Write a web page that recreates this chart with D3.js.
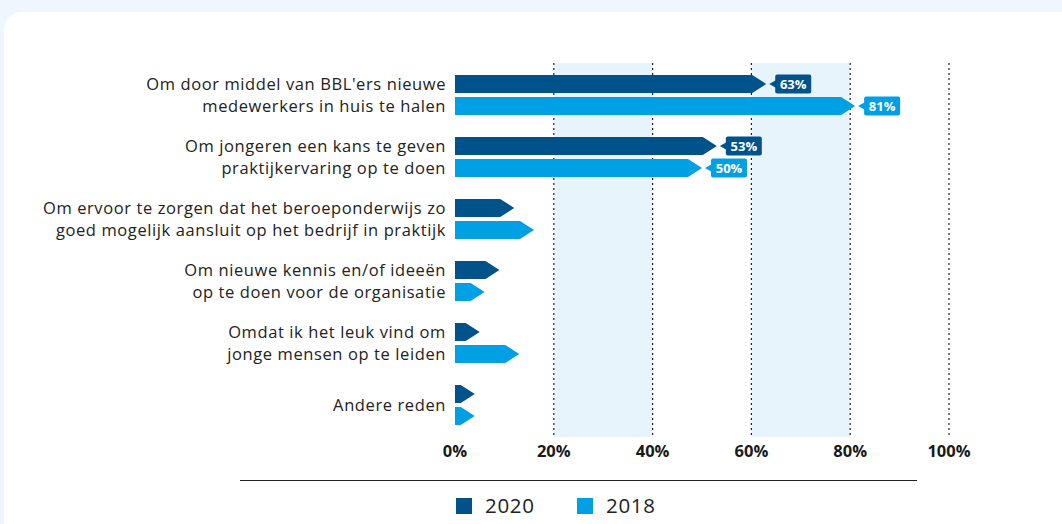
<!DOCTYPE html>
<html><head><meta charset="utf-8">
<script src="https://cdn.jsdelivr.net/npm/d3@7"></script>
<style>
html,body{margin:0;padding:0;background:#eef7fd;}
svg{display:block;}
</style></head>
<body>
<svg id="chart" width="1062" height="524"></svg>
<script>
const categories = [
  ["Om door middel van BBL'ers nieuwe", "medewerkers in huis te halen"],
  ["Om jongeren een kans te geven", "praktijkervaring op te doen"],
  ["Om ervoor te zorgen dat het beroeponderwijs zo", "goed mogelijk aansluit op het bedrijf in praktijk"],
  ["Om nieuwe kennis en/of ideeën", "op te doen voor de organisatie"],
  ["Omdat ik het leuk vind om", "jonge mensen op te leiden"],
  ["Andere reden"]
];
const values2020 = [63, 53, 12, 9, 5, 4];
const values2018 = [81, 50, 16, 6, 13, 4];
const seriesNames = ["2020", "2018"];
const tickValues = [0, 20, 40, 60, 80, 100];
const tickLabels = ["0%", "20%", "40%", "60%", "80%", "100%"];
const labeledGroups = [0, 1];

(function(){
const colors = {"2020": "#00538a", "2018": "#00a1e4"};
const svg = d3.select("#chart");
const font = "'Open Sans', sans-serif";

svg.append("rect").attr("x",0).attr("y",0).attr("width",1062).attr("height",524).attr("fill","#eef7fd");
svg.append("rect").attr("x",4).attr("y",12).attr("width",1090).attr("height",540).attr("rx",18).attr("fill","#ffffff");

const x = d3.scaleLinear().domain([0, 100]).range([455, 949]);
const y = d3.scaleBand().domain(d3.range(categories.length)).range([64, 436]);
const gTop = 63, gBottom = 437;

[[20,40],[60,80]].forEach(([a,b]) => {
  svg.append("rect").attr("x", x(a)).attr("y", gTop).attr("width", x(b)-x(a)).attr("height", gBottom-gTop).attr("fill","#e8f4fc");
});
svg.selectAll(".grid").data(tickValues.filter(d => d > 0)).enter().append("line")
  .attr("x1", d => x(d)).attr("x2", d => x(d)).attr("y1", gTop).attr("y2", gBottom)
  .attr("stroke","#222").attr("stroke-width",1.2).attr("stroke-dasharray","2,3");

svg.selectAll(".tick").data(tickValues).enter().append("text")
  .attr("x", d => x(d)).attr("y", 457).attr("text-anchor","middle")
  .attr("font-family", font).attr("font-weight", 700).attr("font-size", 16.5).attr("fill","#1a1a1a")
  .text((d,i) => tickLabels[i]);

categories.forEach((lines, i) => {
  const c = y(i) + y.bandwidth()/2;
  const ys = lines.length === 2 ? [c-11, c+11] : [c];
  lines.forEach((ln, j) => {
    svg.append("text").attr("x", 446).attr("y", ys[j]).attr("dy","0.35em")
      .attr("text-anchor","end").attr("font-family", font).attr("font-weight", 400)
      .attr("font-size", 16.5).attr("letter-spacing", 0.6).attr("fill","#222").text(ln);
  });
});

const barH = 18, tip = 14;
function arrowPath(v, cy) {
  const x0 = x(0), x1 = x(v), xb = Math.max(x0 + 1, x1 - tip);
  return `M${x0},${cy-barH/2} L${xb},${cy-barH/2} L${x1},${cy} L${xb},${cy+barH/2} L${x0},${cy+barH/2} Z`;
}
[[values2020,"2020",-11],[values2018,"2018",11]].forEach(([vals, name, off]) => {
  vals.forEach((v, i) => {
    const cy = y(i) + y.bandwidth()/2 + off;
    svg.append("path").attr("d", arrowPath(v, cy)).attr("fill", colors[name]);
    if (labeledGroups.includes(i)) {
      const bx = x(v) + 9, bw = 36, bh = 19;
      svg.append("path")
        .attr("d", `M${bx-6},${cy} L${bx+1},${cy-4} L${bx+1},${cy+4} Z`).attr("fill", colors[name]);
      svg.append("rect").attr("x", bx).attr("y", cy - bh/2).attr("width", bw).attr("height", bh)
        .attr("rx", 2).attr("fill", colors[name]);
      svg.append("text").attr("x", bx + bw/2).attr("y", cy).attr("dy","0.36em")
        .attr("text-anchor","middle").attr("font-family", font).attr("font-weight",700)
        .attr("font-size", 13).attr("fill","#fff").text(v + "%");
    }
  });
});

svg.append("line").attr("x1",240).attr("x2",917).attr("y1",480.5).attr("y2",480.5).attr("stroke","#222").attr("stroke-width",1.2);

const legX = [456, 577];
seriesNames.forEach((n, i) => {
  svg.append("rect").attr("x", legX[i]).attr("y", 498).attr("width", 16).attr("height", 16).attr("fill", colors[n]);
  svg.append("text").attr("x", legX[i] + 29).attr("y", 506).attr("dy","0.36em")
    .attr("font-family", font).attr("font-weight", 400).attr("font-size", 20.5).attr("letter-spacing", 0.7).attr("fill","#222").text(n);
});
})();
</script>
</body></html>
